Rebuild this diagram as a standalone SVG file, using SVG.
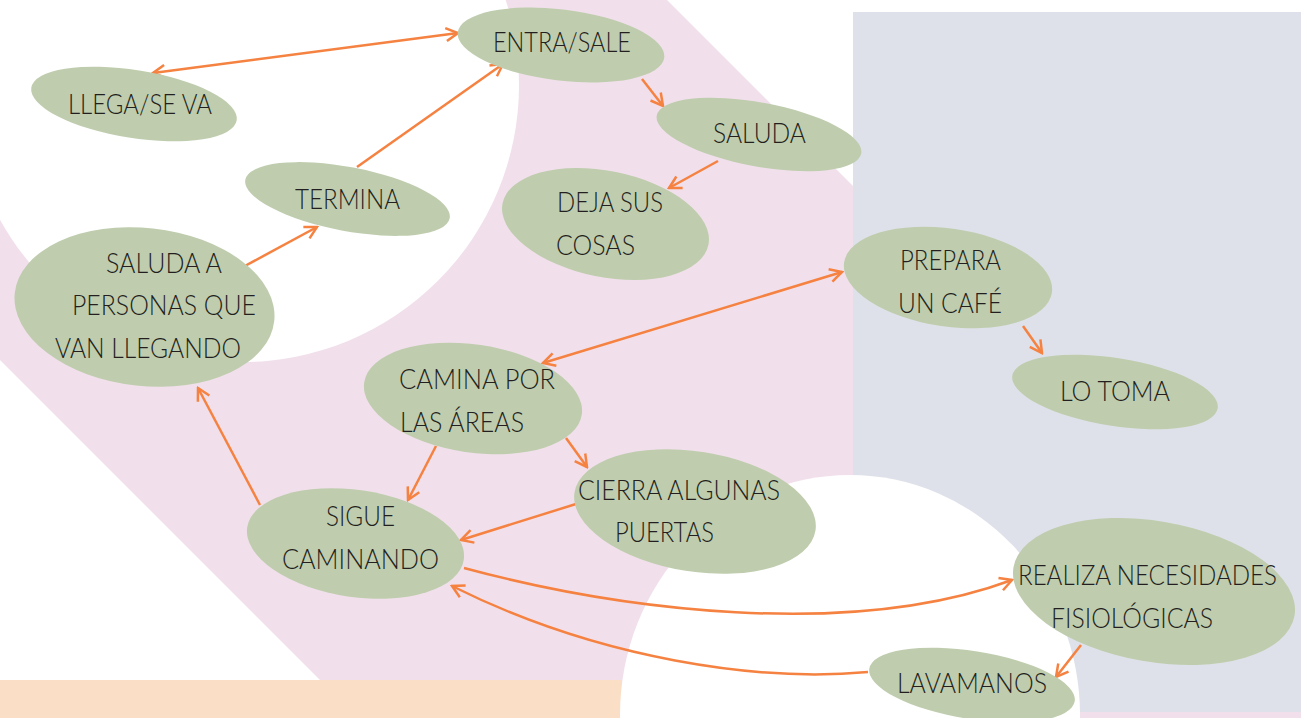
<svg xmlns="http://www.w3.org/2000/svg" width="1301" height="718" viewBox="0 0 1301 718">
<style>
.node{fill:#BFCDAE}
.t{font-family:Lato,"Open Sans","Liberation Sans",sans-serif;font-weight:300;font-size:27px;fill:#231F20}
.c{fill:none;stroke:#F58241;stroke-width:2.5}
</style>
<defs>
<marker id="ah" markerUnits="userSpaceOnUse" markerWidth="16" markerHeight="16" viewBox="0 0 16 16" refX="14" refY="8" orient="auto-start-reverse">
<path d="M2,1.5 L14,8 L2,14.5" fill="none" stroke="#F58241" stroke-width="2.5"/>
</marker>
</defs>
<g id="background">
<rect x="0" y="0" width="1301" height="718" fill="#FFFFFF"/>
<polygon points="-360,0 667,0 1400,733 373,733" fill="#F1E0EB"/>
<circle cx="242" cy="85" r="277" fill="#FFFFFF"/>
<rect x="853" y="12" width="448" height="700" fill="#DFE1EA"/>
<rect x="0" y="680" width="622" height="38" fill="#FADEC5"/>
<ellipse cx="850" cy="715" rx="230" ry="240" fill="#FFFFFF"/>
<rect x="1257" y="712" width="44" height="6" fill="#F1E0EB"/>
</g>
<g id="connectors">
<line class="c" x1="153" y1="73" x2="458" y2="33" marker-start="url(#ah)" marker-end="url(#ah)"/>
<line class="c" x1="357" y1="167" x2="503" y2="64" marker-end="url(#ah)"/>
<line class="c" x1="243" y1="267" x2="317" y2="227" marker-end="url(#ah)"/>
<line class="c" x1="642" y1="79" x2="663" y2="106" marker-end="url(#ah)"/>
<line class="c" x1="718" y1="161" x2="669" y2="188" marker-end="url(#ah)"/>
<line class="c" x1="543" y1="363" x2="842" y2="272" marker-start="url(#ah)" marker-end="url(#ah)"/>
<line class="c" x1="1023" y1="326" x2="1042" y2="353" marker-end="url(#ah)"/>
<line class="c" x1="436" y1="446" x2="408" y2="500" marker-end="url(#ah)"/>
<line class="c" x1="566" y1="438" x2="587" y2="467" marker-end="url(#ah)"/>
<line class="c" x1="576" y1="504" x2="461" y2="540" marker-end="url(#ah)"/>
<line class="c" x1="260" y1="505" x2="198" y2="388" marker-end="url(#ah)"/>
<path class="c" d="M464,568 C620,610 850,640 1012,580" marker-end="url(#ah)"/>
<path class="c" d="M868,672 C760,682 600,660 452,586" marker-end="url(#ah)"/>
<line class="c" x1="1081" y1="645" x2="1056" y2="677" marker-end="url(#ah)"/>
</g>
<g id="n-entra"><ellipse class="node" cx="561" cy="45" rx="104" ry="35.5" transform="rotate(7 561 45)"/><text class="t" x="493" y="52" textLength="138" lengthAdjust="spacingAndGlyphs">ENTRA/SALE</text></g>
<g id="n-llega"><ellipse class="node" cx="134" cy="104" rx="104" ry="34" transform="rotate(9 134 104)"/><text class="t" x="68" y="114" textLength="144" lengthAdjust="spacingAndGlyphs">LLEGA/SE VA</text></g>
<g id="n-termina"><ellipse class="node" cx="347.5" cy="199" rx="104" ry="32" transform="rotate(10.7 347.5 199)"/><text class="t" x="295" y="209" textLength="105" lengthAdjust="spacingAndGlyphs">TERMINA</text></g>
<g id="n-saluda"><ellipse class="node" cx="759" cy="134.5" rx="104" ry="32" transform="rotate(10.5 759 134.5)"/><text class="t" x="713" y="143" textLength="93" lengthAdjust="spacingAndGlyphs">SALUDA</text></g>
<g id="n-deja"><ellipse class="node" cx="605.5" cy="224" rx="105" ry="53" transform="rotate(11.4 605.5 224)"/><text class="t" x="557" y="212" textLength="106" lengthAdjust="spacingAndGlyphs">DEJA SUS</text><text class="t" x="556" y="255" textLength="79" lengthAdjust="spacingAndGlyphs">COSAS</text></g>
<g id="n-saludaA"><ellipse class="node" cx="144.5" cy="307" rx="130.5" ry="79" transform="rotate(6.2 144.5 307)"/><text class="t" x="106" y="273" textLength="116" lengthAdjust="spacingAndGlyphs">SALUDA A</text><text class="t" x="72" y="315" textLength="184" lengthAdjust="spacingAndGlyphs">PERSONAS QUE</text><text class="t" x="55" y="358" textLength="186" lengthAdjust="spacingAndGlyphs">VAN LLEGANDO</text></g>
<g id="n-prepara"><ellipse class="node" cx="948" cy="277.5" rx="105" ry="49" transform="rotate(8.2 948 277.5)"/><text class="t" x="900" y="270" textLength="101" lengthAdjust="spacingAndGlyphs">PREPARA</text><text class="t" x="898" y="313" textLength="104" lengthAdjust="spacingAndGlyphs">UN CAFÉ</text></g>
<g id="n-lotoma"><ellipse class="node" cx="1115" cy="392" rx="104" ry="34" transform="rotate(9 1115 392)"/><text class="t" x="1060" y="401" textLength="110" lengthAdjust="spacingAndGlyphs">LO TOMA</text></g>
<g id="n-camina"><ellipse class="node" cx="473" cy="398.5" rx="110" ry="54" transform="rotate(8.4 473 398.5)"/><text class="t" x="399" y="389" textLength="156" lengthAdjust="spacingAndGlyphs">CAMINA POR</text><text class="t" x="400" y="432" textLength="124" lengthAdjust="spacingAndGlyphs">LAS ÁREAS</text></g>
<g id="n-cierra"><ellipse class="node" cx="695" cy="511.5" rx="122" ry="60" transform="rotate(9 695 511.5)"/><text class="t" x="578" y="500" textLength="202" lengthAdjust="spacingAndGlyphs">CIERRA ALGUNAS</text><text class="t" x="615" y="542" textLength="99" lengthAdjust="spacingAndGlyphs">PUERTAS</text></g>
<g id="n-sigue"><ellipse class="node" cx="355.5" cy="543.5" rx="109.5" ry="53.5" transform="rotate(8.5 355.5 543.5)"/><text class="t" x="326" y="526" textLength="69" lengthAdjust="spacingAndGlyphs">SIGUE</text><text class="t" x="282" y="569" textLength="157" lengthAdjust="spacingAndGlyphs">CAMINANDO</text></g>
<g id="n-realiza"><ellipse class="node" cx="1154" cy="591.5" rx="142.6" ry="70.4" transform="rotate(9.8 1154 591.5)"/><text class="t" x="1018" y="585" textLength="259" lengthAdjust="spacingAndGlyphs">REALIZA NECESIDADES</text><text class="t" x="1051" y="628" textLength="162" lengthAdjust="spacingAndGlyphs">FISIOLÓGICAS</text></g>
<g id="n-lavamanos"><ellipse class="node" cx="972" cy="685" rx="104" ry="34" transform="rotate(9 972 685)"/><text class="t" x="897" y="693" textLength="150" lengthAdjust="spacingAndGlyphs">LAVAMANOS</text></g>
</svg>
